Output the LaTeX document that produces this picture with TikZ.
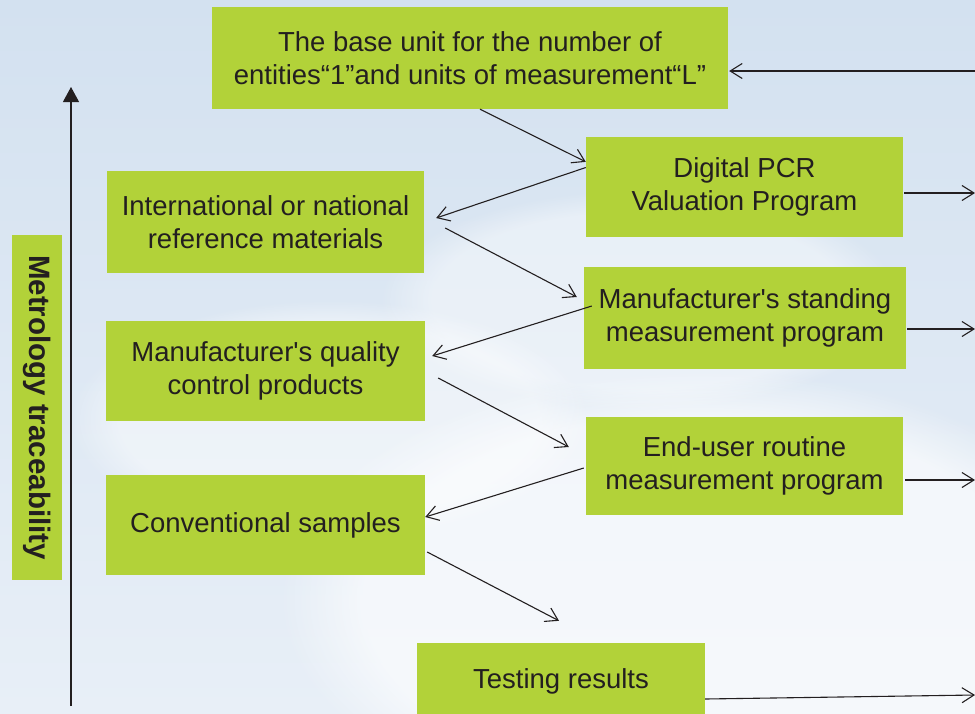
\documentclass[tikz,border=0pt]{standalone}
\usepackage{fontspec}
\setmainfont{Liberation Sans}[Ligatures=TeXOff]
\usetikzlibrary{arrows.meta,fadings}
\definecolor{leaf}{RGB}{178,210,57}
\definecolor{ink}{RGB}{35,31,32}
\definecolor{skytop}{RGB}{211,225,240}
\definecolor{skylow}{RGB}{232,239,247}
\tikzset{
  box/.style={fill=leaf, text=ink, align=center, inner sep=0pt,
    font=\fontsize{27.5}{33}\selectfont},
  link/.style={ink, line width=1.1pt, -{Straight Barb[length=12pt,width=15pt]}},
}
\begin{document}
\begin{tikzpicture}[x=1pt,y=-1pt]
    \useasboundingbox (0,0) rectangle (975,713);
    \shade[top color=skytop, bottom color=skylow] (0,0) rectangle (975,713);
    \fill[white,opacity=0.6,path fading=circle with fuzzy edge 20 percent] (700,600) ellipse (420 and 230);
    \fill[white,opacity=0.45,path fading=circle with fuzzy edge 20 percent] (330,420) ellipse (260 and 120);
    \fill[white,opacity=0.4,path fading=circle with fuzzy edge 20 percent] (640,300) ellipse (260 and 110);

    \node[box, minimum width=516, minimum height=102] (top) at (470,58)
        {The base unit for the number of\\entities“1”and units of measurement“L”};
    \node[box, minimum width=317, minimum height=100] (pcr) at (744.5,187)
        {Digital PCR\\Valuation Program};
    \node[box, minimum width=317, minimum height=102] (intl) at (265.5,222)
        {International or national\\reference materials};
    \node[box, minimum width=322, minimum height=102] (stand) at (745,318)
        {Manufacturer's standing\\measurement program};
    \node[box, minimum width=319, minimum height=100] (qual) at (265.5,371)
        {Manufacturer's quality\\control products};
    \node[box, minimum width=317, minimum height=98] (enduser) at (744.5,466)
        {End-user routine\\measurement program};
    \node[box, minimum width=319, minimum height=100] (conv) at (265.5,525)
        {Conventional samples};
    \node[box, minimum width=288, minimum height=76] (test) at (561,681)
        {Testing results};
    \node[box, rotate=-90, minimum width=345, minimum height=50,
        font=\fontsize{29.5}{33}\bfseries] (trace) at (37,407.5) {Metrology traceability};

    \coordinate (axisB) at (71,706);
    \coordinate (axisT) at (71,87);
    \draw[ink, line width=1.1pt, -{Triangle[length=15pt,width=16pt]}] (axisB) -- (axisT);

    \draw[link] ([xshift=10pt]top.south) -- (pcr.171);
    \draw[link] (pcr.173) -- ([xshift=12pt,yshift=4pt]intl.east);
    \draw[link] ([xshift=21pt,yshift=-6pt]intl.east) -- ([xshift=-7pt,yshift=21pt]stand.west);
    \draw[link] ([xshift=8pt,yshift=12pt]stand.west) -- ([xshift=7pt,yshift=15pt]qual.east);
    \draw[link] ([xshift=13pt,yshift=-7pt]qual.east) -- ([xshift=-17pt,yshift=19pt]enduser.west);
    \draw[link] ([xshift=-2pt,yshift=-2pt]enduser.west) -- ([yshift=8pt]conv.east);
    \draw[link] ([xshift=2pt,yshift=-27pt]conv.east) -- ([xshift=-2pt,yshift=22pt]test.north);

    \coordinate (inTop) at (975,71);
    \coordinate (outPcr) at (975,193);
    \coordinate (outStand) at (975,329);
    \coordinate (outEnd) at (975,480);
    \coordinate (outTest) at (975,695);
    \draw[link] (inTop) -- ([xshift=1pt,yshift=-13pt]top.east);
    \draw[link] ([xshift=1pt,yshift=-6pt]pcr.east) -- (outPcr);
    \draw[link] ([xshift=1pt,yshift=-11pt]stand.east) -- (outStand);
    \draw[link] ([xshift=2pt,yshift=-14pt]enduser.east) -- (outEnd);
    \draw[link] ([yshift=-18pt]test.east) -- (outTest);
\end{tikzpicture}
\end{document}
